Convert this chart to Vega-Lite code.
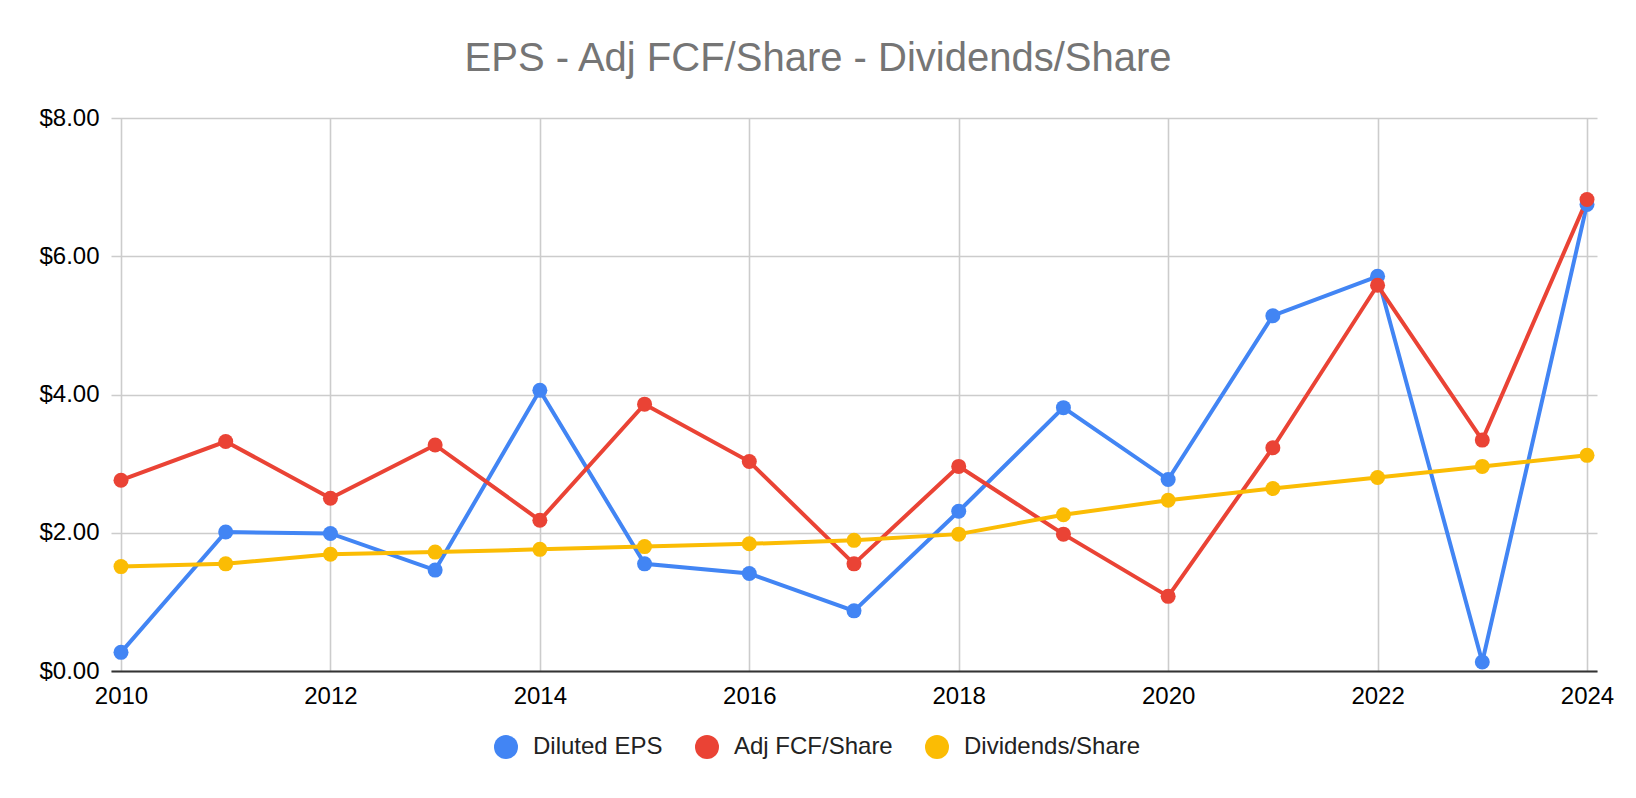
{
  "$schema": "https://vega.github.io/schema/vega-lite/v6.json",
  "autosize": "none",
  "width": 1486,
  "height": 553,
  "padding": {"left": 111, "top": 118, "right": 39, "bottom": 127},
  "background": "white",
  "title": {
    "text": "EPS - Adj FCF/Share - Dividends/Share",
    "font": "Liberation Sans",
    "fontSize": 40,
    "fontWeight": "normal",
    "color": "#757575",
    "anchor": "middle",
    "baseline": "alphabetic",
    "offset": -5,
    "dx": -36
  },
  "data": {
    "values": [
      {"year": 2010, "series": "Diluted EPS", "value": 0.27},
      {"year": 2011, "series": "Diluted EPS", "value": 2.01},
      {"year": 2012, "series": "Diluted EPS", "value": 1.99},
      {"year": 2013, "series": "Diluted EPS", "value": 1.46},
      {"year": 2014, "series": "Diluted EPS", "value": 4.06},
      {"year": 2015, "series": "Diluted EPS", "value": 1.55},
      {"year": 2016, "series": "Diluted EPS", "value": 1.41},
      {"year": 2017, "series": "Diluted EPS", "value": 0.87},
      {"year": 2018, "series": "Diluted EPS", "value": 2.31},
      {"year": 2019, "series": "Diluted EPS", "value": 3.81},
      {"year": 2020, "series": "Diluted EPS", "value": 2.77},
      {"year": 2021, "series": "Diluted EPS", "value": 5.14},
      {"year": 2022, "series": "Diluted EPS", "value": 5.71},
      {"year": 2023, "series": "Diluted EPS", "value": 0.13},
      {"year": 2024, "series": "Diluted EPS", "value": 6.75},
      {"year": 2010, "series": "Adj FCF/Share", "value": 2.76},
      {"year": 2011, "series": "Adj FCF/Share", "value": 3.32},
      {"year": 2012, "series": "Adj FCF/Share", "value": 2.50},
      {"year": 2013, "series": "Adj FCF/Share", "value": 3.27},
      {"year": 2014, "series": "Adj FCF/Share", "value": 2.18},
      {"year": 2015, "series": "Adj FCF/Share", "value": 3.86},
      {"year": 2016, "series": "Adj FCF/Share", "value": 3.03},
      {"year": 2017, "series": "Adj FCF/Share", "value": 1.55},
      {"year": 2018, "series": "Adj FCF/Share", "value": 2.96},
      {"year": 2019, "series": "Adj FCF/Share", "value": 1.98},
      {"year": 2020, "series": "Adj FCF/Share", "value": 1.08},
      {"year": 2021, "series": "Adj FCF/Share", "value": 3.23},
      {"year": 2022, "series": "Adj FCF/Share", "value": 5.58},
      {"year": 2023, "series": "Adj FCF/Share", "value": 3.34},
      {"year": 2024, "series": "Adj FCF/Share", "value": 6.82},
      {"year": 2010, "series": "Dividends/Share", "value": 1.51},
      {"year": 2011, "series": "Dividends/Share", "value": 1.55},
      {"year": 2012, "series": "Dividends/Share", "value": 1.69},
      {"year": 2013, "series": "Dividends/Share", "value": 1.72},
      {"year": 2014, "series": "Dividends/Share", "value": 1.76},
      {"year": 2015, "series": "Dividends/Share", "value": 1.80},
      {"year": 2016, "series": "Dividends/Share", "value": 1.84},
      {"year": 2017, "series": "Dividends/Share", "value": 1.89},
      {"year": 2018, "series": "Dividends/Share", "value": 1.98},
      {"year": 2019, "series": "Dividends/Share", "value": 2.26},
      {"year": 2020, "series": "Dividends/Share", "value": 2.47},
      {"year": 2021, "series": "Dividends/Share", "value": 2.64},
      {"year": 2022, "series": "Dividends/Share", "value": 2.80},
      {"year": 2023, "series": "Dividends/Share", "value": 2.96},
      {"year": 2024, "series": "Dividends/Share", "value": 3.12}
    ]
  },
  "mark": {
    "type": "line",
    "strokeWidth": 4,
    "point": {"filled": true, "size": 225, "opacity": 1}
  },
  "encoding": {
    "x": {
      "field": "year",
      "type": "quantitative",
      "title": null,
      "scale": {"domain": [2010, 2024], "nice": false, "zero": false, "padding": 10},
      "axis": {
        "values": [2010, 2012, 2014, 2016, 2018, 2020, 2022, 2024],
        "format": "d",
        "ticks": false,
        "domainColor": "#333333",
        "domainWidth": 2,
        "gridColor": "#cccccc",
        "gridWidth": 1.6,
        "labelPadding": 13,
        "labelFont": "Liberation Sans",
        "labelFontSize": 24,
        "labelColor": "#000000"
      }
    },
    "y": {
      "field": "value",
      "type": "quantitative",
      "title": null,
      "scale": {"domain": [0, 8], "nice": false},
      "axis": {
        "values": [0, 2, 4, 6, 8],
        "format": "$.2f",
        "ticks": false,
        "domain": false,
        "gridColor": "#cccccc",
        "gridWidth": 1.6,
        "labelPadding": 12,
        "labelFont": "Liberation Sans",
        "labelFontSize": 24,
        "labelColor": "#000000"
      }
    },
    "color": {
      "field": "series",
      "type": "nominal",
      "title": null,
      "sort": ["Diluted EPS", "Adj FCF/Share", "Dividends/Share"],
      "scale": {
        "domain": ["Diluted EPS", "Adj FCF/Share", "Dividends/Share"],
        "range": ["#4285F4", "#EA4335", "#FBBC04"]
      },
      "legend": {
        "orient": "none",
        "direction": "horizontal",
        "legendX": 383,
        "legendY": 617,
        "symbolType": "circle",
        "symbolSize": 576,
        "symbolStrokeWidth": 0,
        "labelFont": "Liberation Sans",
        "labelFontSize": 24,
        "labelColor": "#222222",
        "labelLimit": 400,
        "labelOffset": 15,
        "columnPadding": 32,
        "encode": {
          "symbols": {
            "update": {
              "fill": {"scale": "color", "field": "value"},
              "strokeWidth": {"value": 0},
              "opacity": {"value": 1}
            }
          }
        }
      }
    }
  },
  "config": {
    "view": {"stroke": null}
  }
}
